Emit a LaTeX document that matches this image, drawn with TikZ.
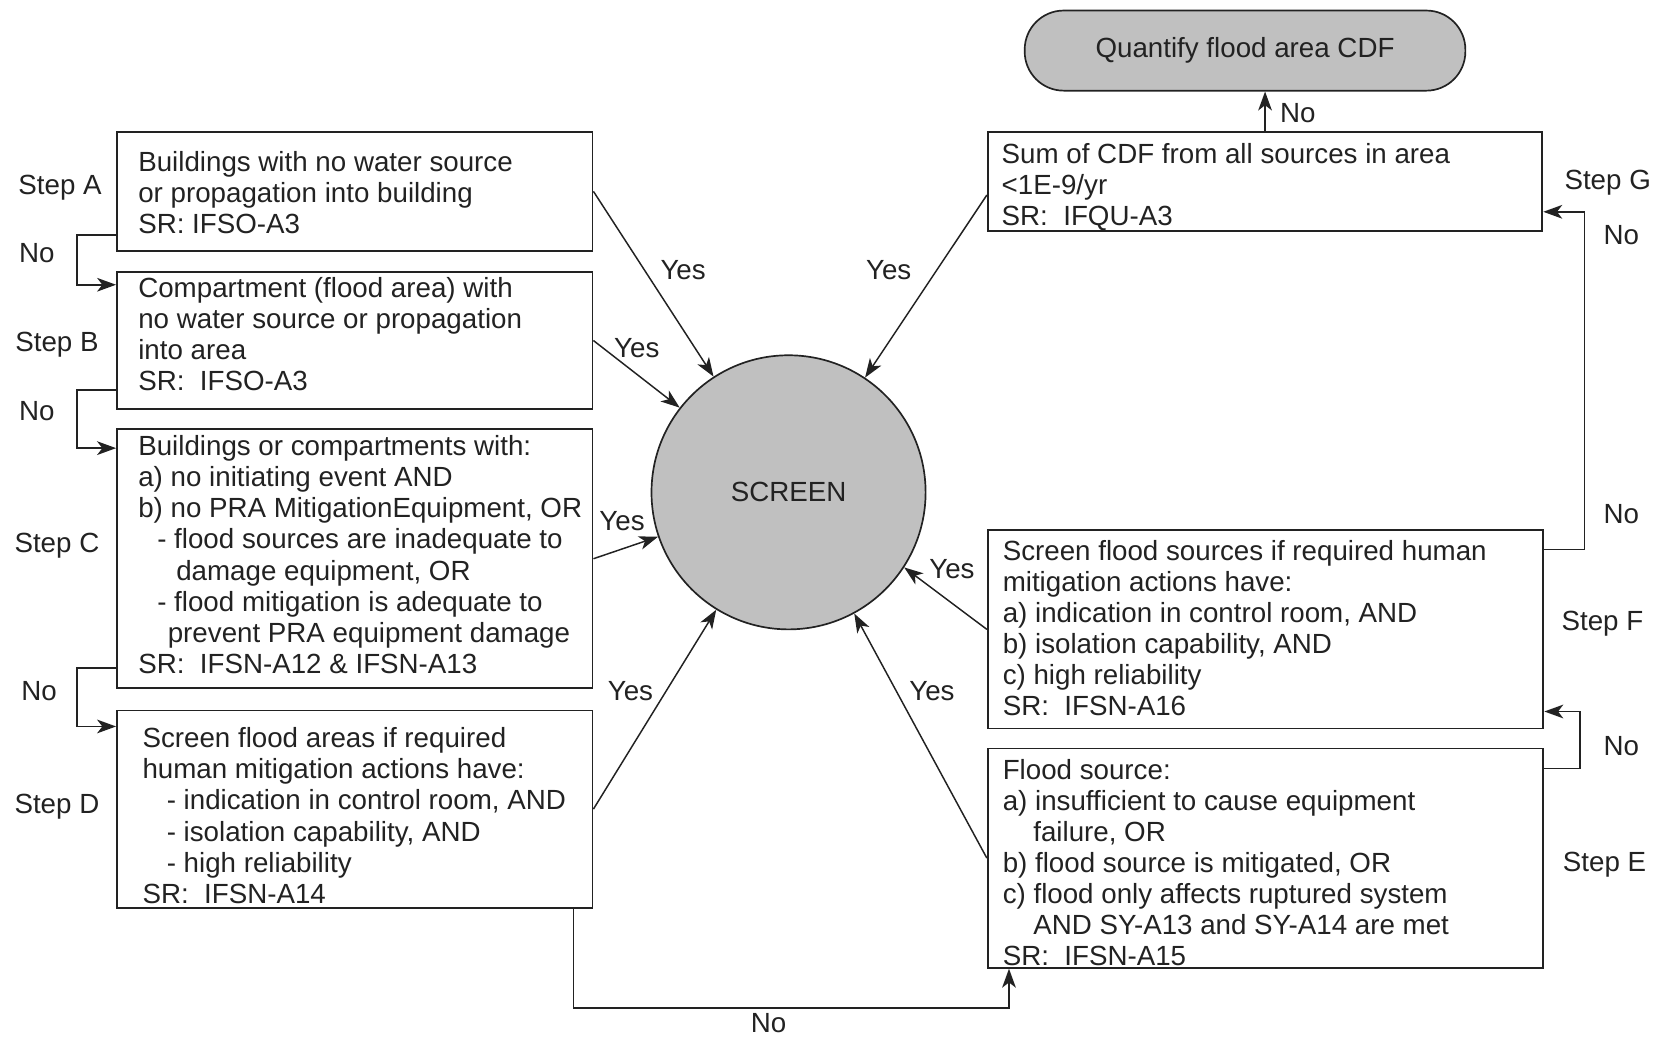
\documentclass[tikz,border=0pt]{standalone}
\usepackage{fontspec}
\setmainfont{Liberation Sans}
\usetikzlibrary{arrows.meta,calc}
\definecolor{ink}{HTML}{222222}
\definecolor{shade}{HTML}{C0C0C0}
\begin{document}
\begin{tikzpicture}[x=1pt,y=-1pt,
  every node/.style={font=\fontsize{26.3}{29.5}\selectfont, text=ink},
  box/.style={draw=ink, line width=1.8pt, rectangle, inner sep=0pt},
  txt/.style={align=left, anchor=north west, inner sep=0pt},
  lbl/.style={inner sep=0pt},
  arr/.style={draw=ink, line width=1.4pt, -{Stealth[length=18pt,width=13pt,inset=5pt]}},
  link/.style={draw=ink, line width=1.6pt, -{Stealth[length=18pt,width=13pt,inset=5pt]}},
]
\useasboundingbox (0,0) rectangle (1568,983);

% boxes
\node[box, minimum width=451pt, minimum height=113pt] (A) at (336.5,181.5) {};
\node[box, minimum width=451pt, minimum height=130pt] (B) at (336.5,323) {};
\node[box, minimum width=451pt, minimum height=246pt] (C) at (336.5,530) {};
\node[box, minimum width=451pt, minimum height=187pt] (D) at (336.5,767.5) {};
\node[box, minimum width=526pt, minimum height=94pt] (G) at (1200,172) {};
\node[box, minimum width=527pt, minimum height=188pt] (F) at (1200.5,597) {};
\node[box, minimum width=527pt, minimum height=208pt] (E) at (1200.5,814) {};

\node[circle, draw=ink, fill=shade, line width=1.6pt, minimum size=260pt, inner sep=0pt] (S) at (748,467) {SCREEN};
\node[rectangle, draw=ink, fill=shade, line width=1.6pt, rounded corners=37pt, minimum width=418pt, minimum height=76pt, inner sep=0pt] (Q) at (1181,48) {Quantify flood area CDF};

% box texts
\node[txt] (At) at (131,143) {Buildings with no water source\\or propagation into building\\SR: IFSO-A3};
\node[txt] (Bt) at (131,263) {Compartment (flood area) with\\no water source or propagation\\into area\\SR:\ \ IFSO-A3};
\node[txt] (Ct) at (131,413) {Buildings or compartments with:\\a) no initiating event AND\\b) no PRA MitigationEquipment, OR\\\hspace*{18pt}- flood sources are inadequate to\\\hspace*{36pt}damage equipment, OR\\\hspace*{18pt}- flood mitigation is adequate to\\\hspace*{28pt}prevent PRA equipment damage\\SR:\ \ IFSN-A12 \& IFSN-A13};
\node[txt] (Dt) at (135,690) {Screen flood areas if required\\human mitigation actions have:\\\hspace*{23pt}- indication in control room, AND\\\hspace*{23pt}- isolation capability, AND\\\hspace*{23pt}- high reliability\\SR:\ \ IFSN-A14};
\node[txt] (Et) at (951,720) {Flood source:\\a) insufficient to cause equipment\\\hspace*{29pt}failure, OR\\b) flood source is mitigated, OR\\c) flood only affects ruptured system\\\hspace*{29pt}AND SY-A13 and SY-A14 are met\\SR:\ \ IFSN-A15};
\node[txt] (Ft) at (951,512) {Screen flood sources if required human\\mitigation actions have:\\a) indication in control room, AND\\b) isolation capability, AND\\c) high reliability\\SR:\ \ IFSN-A16};
\node[txt] (Gt) at (950,136) {Sum of CDF from all sources in area\\<1E-9/yr\\SR:\ \ IFQU-A3};

% Yes connectors
\draw[arr] (A.east) -- (S);
\draw[arr] (B.east) -- (S);
\draw[arr] (C.east) -- (S);
\draw[arr] (D.east) -- (S);
\draw[arr] ($(G.west)+(0,13)$) -- (S);
\draw[arr] (F.west) -- (S.-33);
\draw[arr] (E.west) -- (S);

% No connectors
\draw[link] ($(A.south west)+(0,-16)$) -- ++(-37,0) |- ($(B.north west)+(0,13)$);
\draw[link] ($(B.south west)+(0,-19)$) -- ++(-37,0) |- ($(C.north west)+(0,19)$);
\draw[link] ($(C.south west)+(0,-20)$) -- ++(-37,0) |- ($(D.north west)+(0,16)$);
\draw[link] ($(D.south east)+(-19,0)$) -- ++(0,94) -| ($(E.south west)+(21,0)$);
\draw[link] ($(E.north east)+(0,20)$) -- ++(34,0) |- ($(F.south east)+(0,-17)$);
\draw[link] ($(F.north east)+(0,19)$) -- ++(38,0) |- ($(G.south east)+(0,-19)$);
\draw[link] (G.north) -- (G.north |- Q.south);

% Yes labels
\node[lbl] (y1) at (648,256) {Yes};
\node[lbl] (y2) at (604,330) {Yes};
\node[lbl] (y3) at (590,494) {Yes};
\node[lbl] (y4) at (598,656) {Yes};
\node[lbl] (y5) at (843,256) {Yes};
\node[lbl] (y6) at (903,540) {Yes};
\node[lbl] (y7) at (884,656) {Yes};

% No labels
\node[lbl] (n1) at (35,240) {No};
\node[lbl] (n2) at (35,390) {No};
\node[lbl] (n3) at (37,656) {No};
\node[lbl] (n4) at (729,970) {No};
\node[lbl] (n5) at (1538,708) {No};
\node[lbl] (n6) at (1538,488) {No};
\node[lbl] (n7) at (1538,223) {No};
\node[lbl] (n8) at (1231,107) {No};

% Step labels
\node[lbl] (sA) at (57,178) {Step A};
\node[lbl] (sB) at (54,327) {Step B};
\node[lbl] (sC) at (54,518) {Step C};
\node[lbl] (sD) at (54,765) {Step D};
\node[lbl] (sE) at (1522,820) {Step E};
\node[lbl] (sF) at (1520,592) {Step F};
\node[lbl] (sG) at (1525,173) {Step G};
\end{tikzpicture}
\end{document}
